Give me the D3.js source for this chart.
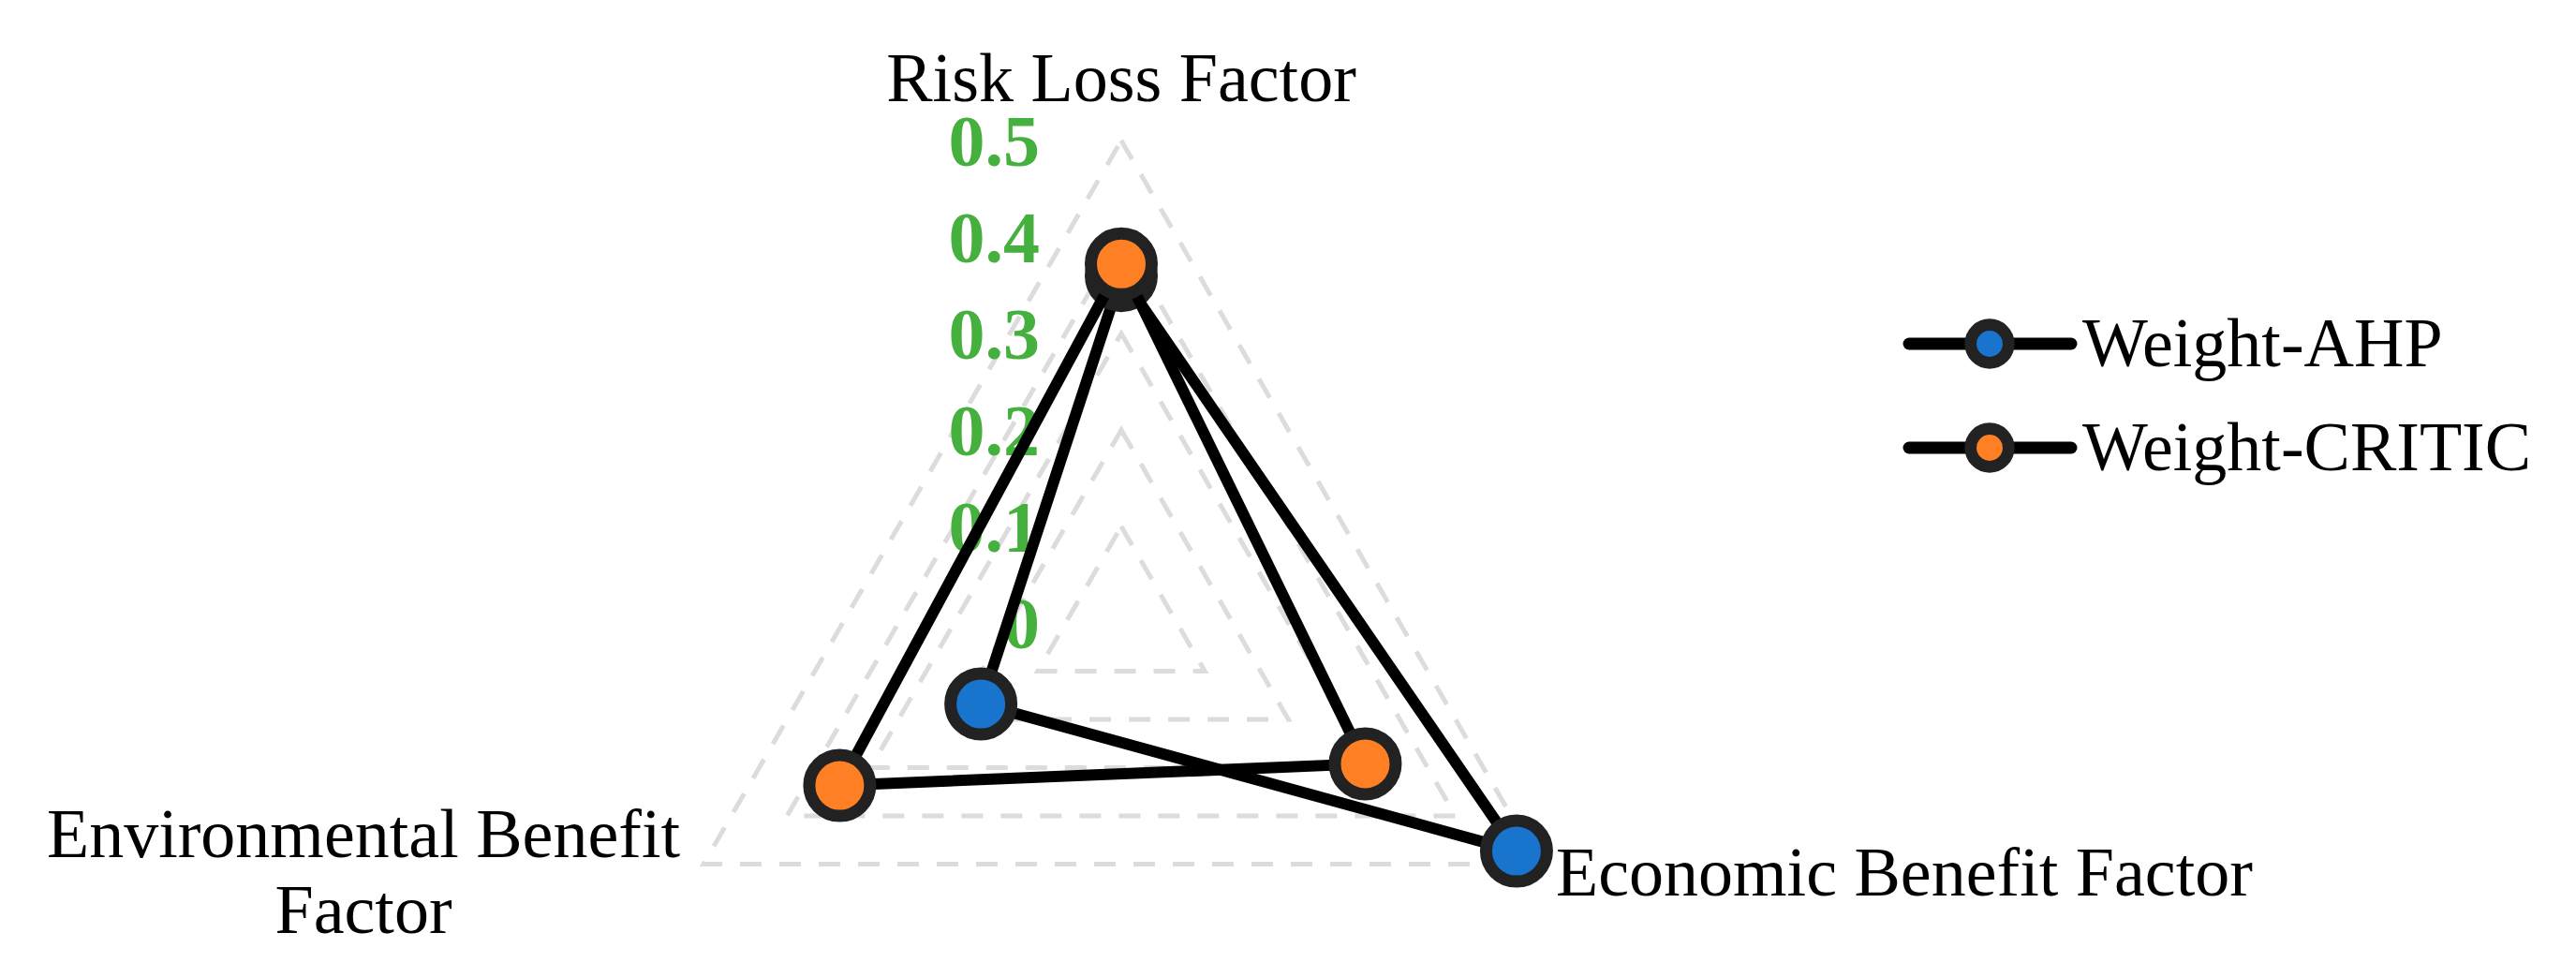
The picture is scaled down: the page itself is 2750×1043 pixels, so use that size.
<!DOCTYPE html>
<html>
<head>
<meta charset="utf-8">
<script src="https://cdn.jsdelivr.net/npm/d3@7"></script>
<style>
  html, body { margin: 0; padding: 0; background: #fff; }
  svg { display: block; }
  text { font-family: "Liberation Serif", "Times New Roman", serif; }
</style>
</head>
<body>
<script>
// ---- data ----
const axisNames = ["Risk Loss Factor", "Economic Benefit Factor", "Environmental Benefit Factor"];
const ahpValues = [0.360, 0.473, 0.168];
const criticValues = [0.372, 0.292, 0.337];
const tickValues = [0, 0.1, 0.2, 0.3, 0.4, 0.5];
const tickLabels = ["0", "0.1", "0.2", "0.3", "0.4", "0.5"];
const seriesNames = ["Weight-AHP", "Weight-CRITIC"];

// ---- styles ----
const seriesFill = ["#1874CD", "#FF7F24"];
const W = 2750, H = 1043;
const cx = 1197, cy = 665, R = 515;

const svg = d3.select("body").append("svg").attr("width", W).attr("height", H);
const g = svg.append("g").attr("transform", `translate(${cx},${cy})`);

const rScale = d3.scaleLinear().domain([0, 0.5]).range([0, R]);
const aScale = d3.scaleLinear().domain([0, axisNames.length]).range([0, 2 * Math.PI]);

const radial = d3.lineRadial()
  .angle((d, i) => aScale(i))
  .radius(d => rScale(d))
  .curve(d3.curveLinearClosed);

// grid
g.append("g").selectAll("path")
  .data(tickValues.filter(v => v > 0))
  .join("path")
  .attr("d", v => radial(axisNames.map(() => v)))
  .attr("fill", "none")
  .attr("stroke", "#dcdcdc")
  .attr("stroke-width", 5)
  .attr("stroke-dasharray", "23,19");

// tick labels
g.append("g").selectAll("text")
  .data(tickValues)
  .join("text")
  .attr("x", -87)
  .attr("y", v => -rScale(v))
  .attr("dy", "0.34em")
  .attr("text-anchor", "end")
  .attr("font-size", 78)
  .attr("font-weight", "bold")
  .attr("fill", "#45B03D")
  .text((v, i) => tickLabels[i]);

// series
const allSeries = [ahpValues, criticValues];
allSeries.forEach((vals, s) => {
  const sg = g.append("g");
  sg.append("path")
    .attr("d", radial(vals))
    .attr("fill", "none")
    .attr("stroke", "#000")
    .attr("stroke-width", 12)
    .attr("stroke-linejoin", "round");
  sg.selectAll("circle")
    .data(vals)
    .join("circle")
    .attr("cx", (v, i) => d3.pointRadial(aScale(i), rScale(v))[0])
    .attr("cy", (v, i) => d3.pointRadial(aScale(i), rScale(v))[1])
    .attr("r", 32.5)
    .attr("fill", seriesFill[s])
    .attr("stroke", "#222")
    .attr("stroke-width", 13);
});

// axis labels
const outer = axisNames.map((n, i) => d3.pointRadial(aScale(i), rScale(0.5)));
const lab = g.append("g").attr("font-size", 74).attr("fill", "#000");
lab.append("text").attr("x", outer[0][0]).attr("y", outer[0][1] - 42)
  .attr("text-anchor", "middle").text(axisNames[0]);
lab.append("text").attr("x", outer[1][0] + 18).attr("y", outer[1][1] + 33)
  .attr("text-anchor", "start").text(axisNames[1]);
const envWords = axisNames[2].split(" ");
const envLines = [envWords.slice(0, 2).join(" "), envWords.slice(2).join(" ")];
const envText = lab.append("text").attr("text-anchor", "middle");
envLines.forEach((ln, k) => {
  envText.append("tspan")
    .attr("x", outer[2][0] - 363)
    .attr("y", outer[2][1] - 8 + k * 81)
    .text(ln);
});

// legend
const leg = svg.append("g").attr("transform", "translate(2038,367)");
seriesNames.forEach((name, s) => {
  const row = leg.append("g").attr("transform", `translate(0,${s * 111})`);
  row.append("line").attr("x1", 0).attr("x2", 173).attr("y1", 0).attr("y2", 0)
    .attr("stroke", "#000").attr("stroke-width", 13).attr("stroke-linecap", "round");
  row.append("circle").attr("cx", 86).attr("cy", 0).attr("r", 20.3)
    .attr("fill", seriesFill[s]).attr("stroke", "#222").attr("stroke-width", 12.7);
  row.append("text").attr("x", 185).attr("y", 24).attr("font-size", 74)
    .attr("fill", "#000").text(name);
});
</script>
</body>
</html>
